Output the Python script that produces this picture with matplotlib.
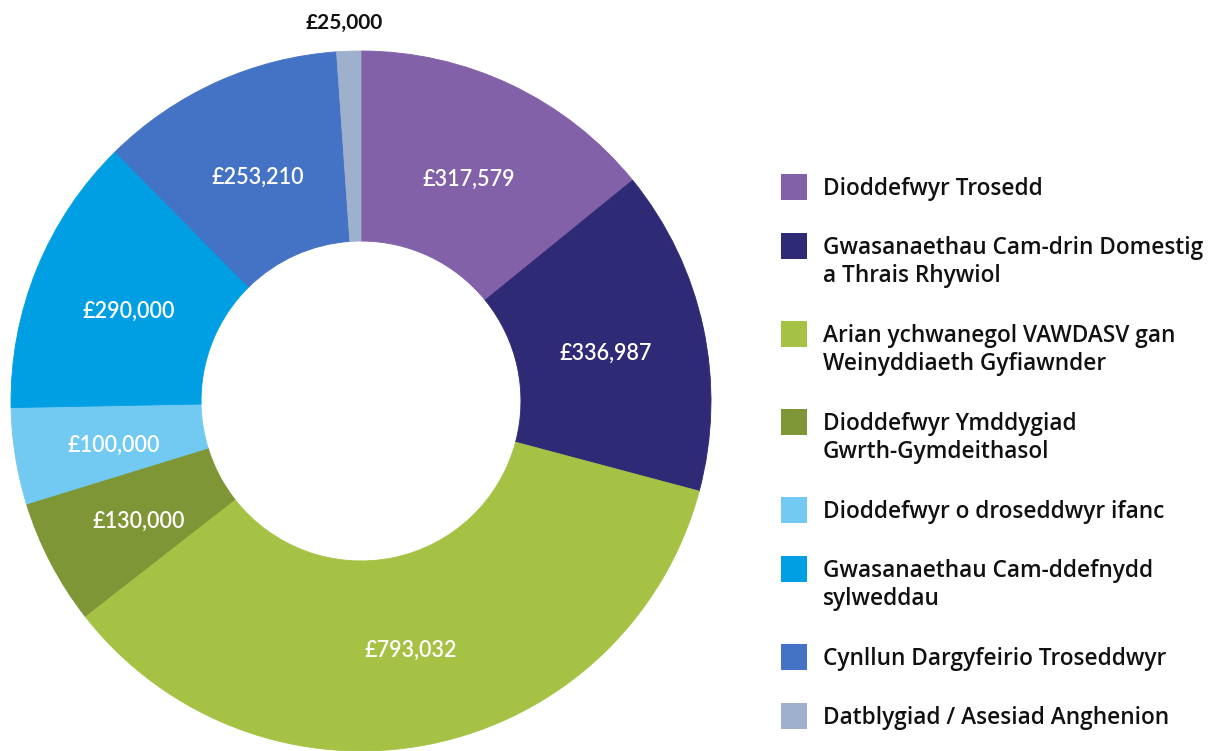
import numpy as np
import matplotlib.pyplot as plt
from matplotlib.patches import Rectangle

plt.rcParams['font.family'] = ['Lato', 'DejaVu Sans']

# Data
labels = ['Dioddefwyr Trosedd',
          'Gwasanaethau Cam-drin Domestig\na Thrais Rhywiol',
          'Arian ychwanegol VAWDASV gan\nWeinyddiaeth Gyfiawnder',
          'Dioddefwyr Ymddygiad\nGwrth-Gymdeithasol',
          'Dioddefwyr o droseddwyr ifanc',
          'Gwasanaethau Cam-ddefnydd\nsylweddau',
          'Cynllun Dargyfeirio Troseddwyr',
          'Datblygiad / Asesiad Anghenion']
values = [317579, 336987, 793032, 130000, 100000, 290000, 253210, 25000]
colors = ['#8261A8', '#2E2A75', '#A5C244', '#7F9636',
          '#72C9F2', '#009FE3', '#4472C4', '#9EB0CB']

W, H = 1211, 751
fig = plt.figure(figsize=(W / 100, H / 100), dpi=100)

# donut: centre (361, 401) px, radius 350 px
cx, cy, R = 361, 401, 350
ax = fig.add_axes([(cx - R) / W, (H - cy - R) / H, 2 * R / W, 2 * R / H])
wedges, _ = ax.pie(values, colors=colors, startangle=90, counterclock=False,
                   radius=1.0, wedgeprops=dict(width=0.543, linewidth=0.6))
for w, c in zip(wedges, colors):
    w.set_edgecolor(c)
ax.set_xlim(-1, 1)
ax.set_ylim(-1, 1)
ax.set_aspect('equal')
ax.axis('off')

for w, v in zip(wedges, values):
    ang = np.deg2rad((w.theta1 + w.theta2) / 2)
    txt = '£{:,}'.format(v)
    if v < 50000:
        # small slice: label outside the ring
        ax.text(1.07 * np.cos(ang) - 0.01, 1.08 * np.sin(ang), txt, ha='center',
                va='center', fontsize=15, fontweight='bold', color='#111111',
                clip_on=False)
    else:
        ax.text(0.715 * np.cos(ang), 0.715 * np.sin(ang) - 0.012, txt,
                ha='center', va='center', fontsize=15.5, fontweight='semibold',
                color='white')

# legend drawn by hand
y = 187
for lab, c in zip(labels, colors):
    fig.patches.append(Rectangle((781 / W, 1 - (y + 13) / H), 26 / W, 26 / H,
                                 transform=fig.transFigure, facecolor=c,
                                 edgecolor='none'))
    fig.text(823 / W, 1 - (y - 10) / H, lab, ha='left', va='top', fontsize=16.3,
             fontweight='semibold', color='#111111', linespacing=1.2,
             family=['Open Sans', 'DejaVu Sans'])
    y += 88 if '\n' in lab else 59

fig.savefig('out.png', dpi=100)
